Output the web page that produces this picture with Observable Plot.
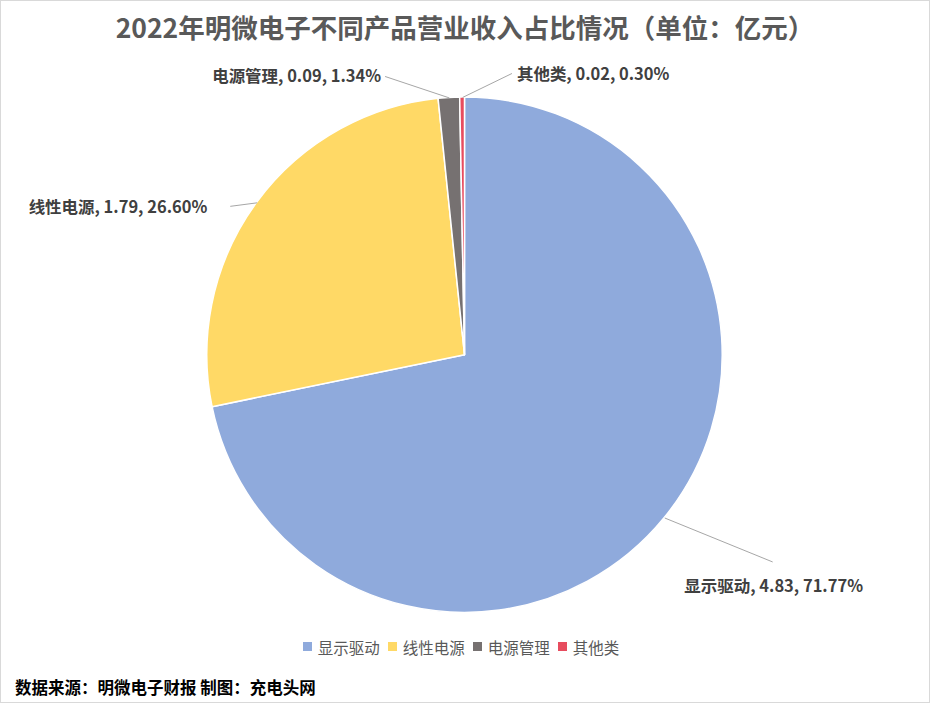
<!DOCTYPE html>
<html>
<head>
<meta charset="utf-8">
<script src="https://cdn.jsdelivr.net/npm/d3@7"></script>
<script src="https://cdn.jsdelivr.net/npm/@observablehq/plot@0.6"></script>
<style>
  html, body { margin: 0; padding: 0; background: #fff; }
  #chart { position: relative; width: 930px; height: 703px; box-sizing: border-box; border: 1px solid #d9d9d9; font-family: "Noto Sans CJK SC", "Noto Sans", sans-serif; overflow: hidden; }
  #title { position: absolute; left: 0; right: 0; top: 8px; text-align: center; font-size: 26.5px; font-weight: bold; color: #595959; line-height: 36px; }
  #plot { position: absolute; left: -1px; top: 59px; }
  #legend { position: absolute; left: 0; right: 0; top: 629px; display: flex; justify-content: center; }
  #footer { position: absolute; left: 14px; top: 674px; font-size: 16.5px; font-weight: bold; color: #000; line-height: 24px; }
  .lg-swatch { margin-right: 8px !important; }
  .lg-swatch > svg { margin-right: 6px !important; }
</style>
</head>
<body>
<div id="chart">
  <div id="title"></div>
  <div id="plot"></div>
  <div id="legend"></div>
  <div id="footer"></div>
</div>
<script>
const titleText = "2022年明微电子不同产品营业收入占比情况（单位：亿元）";
const footerText = "数据来源：明微电子财报 制图：充电头网";
const categories = ["显示驱动", "线性电源", "电源管理", "其他类"];
const values = [4.83, 1.79, 0.09, 0.02];
const percents = ["71.77%", "26.60%", "1.34%", "0.30%"];
const colors = ["#8FAADC", "#FFD966", "#767171", "#E74C5E"];

document.getElementById("title").textContent = titleText;
document.getElementById("footer").textContent = footerText;

// layout (pixel offsets from pie centre)
const R = 258;
const labelLayout = {
  "显示驱动": {end: [308, 207], text: [309, 232], anchor: "middle"},
  "线性电源": {end: [-235, -149], text: [-258, -148], anchor: "end"},
  "电源管理": {end: [-80, -279], text: [-84, -279], anchor: "end"},
  "其他类":   {end: [47, -282], text: [52, -281], anchor: "start"}
};

const data = categories.map((c, i) => ({name: c, value: values[i], pct: percents[i], color: colors[i]}));
const arcs = d3.pie().sort(null).value(d => d.value)(data);
arcs.forEach(a => {
  const mid = (a.startAngle + a.endAngle) / 2;
  a.data.sx = R * Math.sin(mid);
  a.data.sy = -R * Math.cos(mid);
  const L = labelLayout[a.data.name];
  a.data.ex = L.end[0]; a.data.ey = L.end[1];
  a.data.tx = L.text[0]; a.data.ty = L.text[1];
  a.data.anchor = L.anchor;
  a.data.label = `${a.data.name}, ${a.data.value.toFixed(2)}, ${a.data.pct}`;
});

function pieMark(index, scales, values, dimensions) {
  const cx = scales.x(0), cy = scales.y(0);
  const r = Math.abs(scales.x(R) - scales.x(0));
  const g = d3.create("svg:g").attr("transform", `translate(${cx},${cy})`);
  const arc = d3.arc().innerRadius(0).outerRadius(r);
  g.selectAll("path").data(arcs).join("path")
    .attr("d", arc)
    .attr("fill", d => d.data.color)
    .attr("stroke", "#fff")
    .attr("stroke-width", 1.5)
    .attr("stroke-linejoin", "round");
  return g.node();
}

const byAnchor = a => data.filter(d => d.anchor === a);

const plot = Plot.plot({
  width: 930,
  height: 580,
  margin: 0,
  x: {domain: [-465, 465], range: [0, 930], axis: null},
  y: {domain: [-295, 285], range: [0, 580], axis: null},
  marks: [
    pieMark,
    Plot.link(data, {x1: "sx", y1: "sy", x2: "ex", y2: "ey", stroke: "#a6a6a6", strokeWidth: 1}),
    ...["start", "middle", "end"].map(a => Plot.text(byAnchor(a), {
      x: "tx", y: "ty", text: "label", textAnchor: a,
      fill: "#404040", fontSize: 16.5, fontWeight: "bold",
      fontFamily: "'Noto Sans CJK SC', 'Noto Sans', sans-serif"
    }))
  ]
});
document.getElementById("plot").appendChild(plot);

const legend = Plot.legend({
  color: {type: "categorical", domain: categories, range: colors},
  className: "lg",
  swatchSize: 9,
  style: {fontSize: "15.5px", color: "#595959", fontFamily: "'Noto Sans CJK SC', sans-serif"}
});
document.getElementById("legend").appendChild(legend);
</script>
</body>
</html>
